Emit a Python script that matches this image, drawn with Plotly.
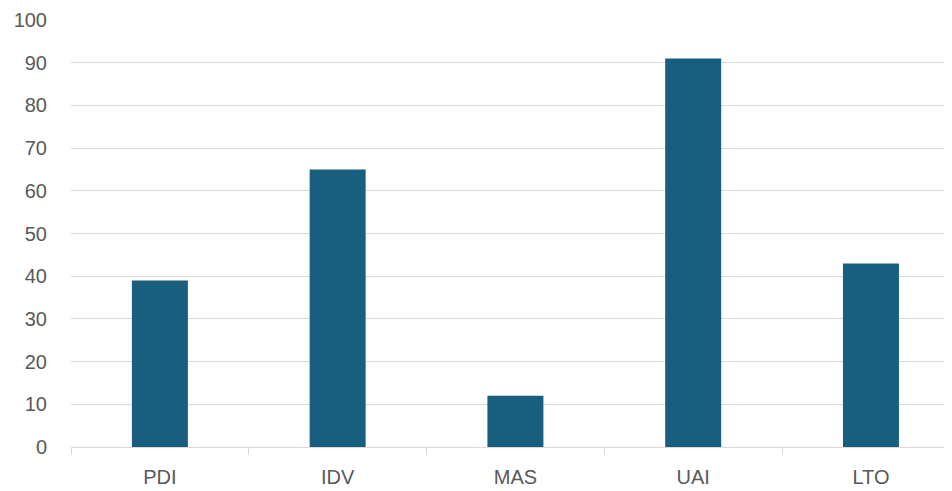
import plotly.graph_objects as go

categories = ["PDI", "IDV", "MAS", "UAI", "LTO"]
values = [39, 65, 12, 91, 43]
y_ticks = [0, 10, 20, 30, 40, 50, 60, 70, 80, 90, 100]

fig = go.Figure(
    go.Bar(x=categories, y=values, marker=dict(color="#175E7F", line=dict(width=0)))
)

# page body has an 8px default margin, so the figure is offset by 8px;
# size the figure so it fits the window without scrollbars
fig.update_layout(
    width=944,
    height=483,
    margin=dict(l=63, r=0, t=12, b=44, autoexpand=False),
    paper_bgcolor="white",
    plot_bgcolor="white",
    bargap=0.685,
    showlegend=False,
    font=dict(family="Liberation Sans", size=20, color="#595959"),
)

fig.update_xaxes(
    type="category",
    range=[-0.5, 4.456],
    automargin=False,
    showline=True,
    linecolor="#D9D9D9",
    linewidth=1,
    ticks="outside",
    tickson="boundaries",
    ticklen=7,
    tickcolor="#D9D9D9",
    showgrid=False,
    ticklabelstandoff=12,
)

fig.update_yaxes(
    range=[0, 100],
    tickvals=y_ticks,
    automargin=False,
    showgrid=True,
    gridcolor="#D9D9D9",
    gridwidth=1,
    zeroline=False,
    showline=False,
    ticks="",
    ticklabelstandoff=23,
)

fig.write_html("out.html")
